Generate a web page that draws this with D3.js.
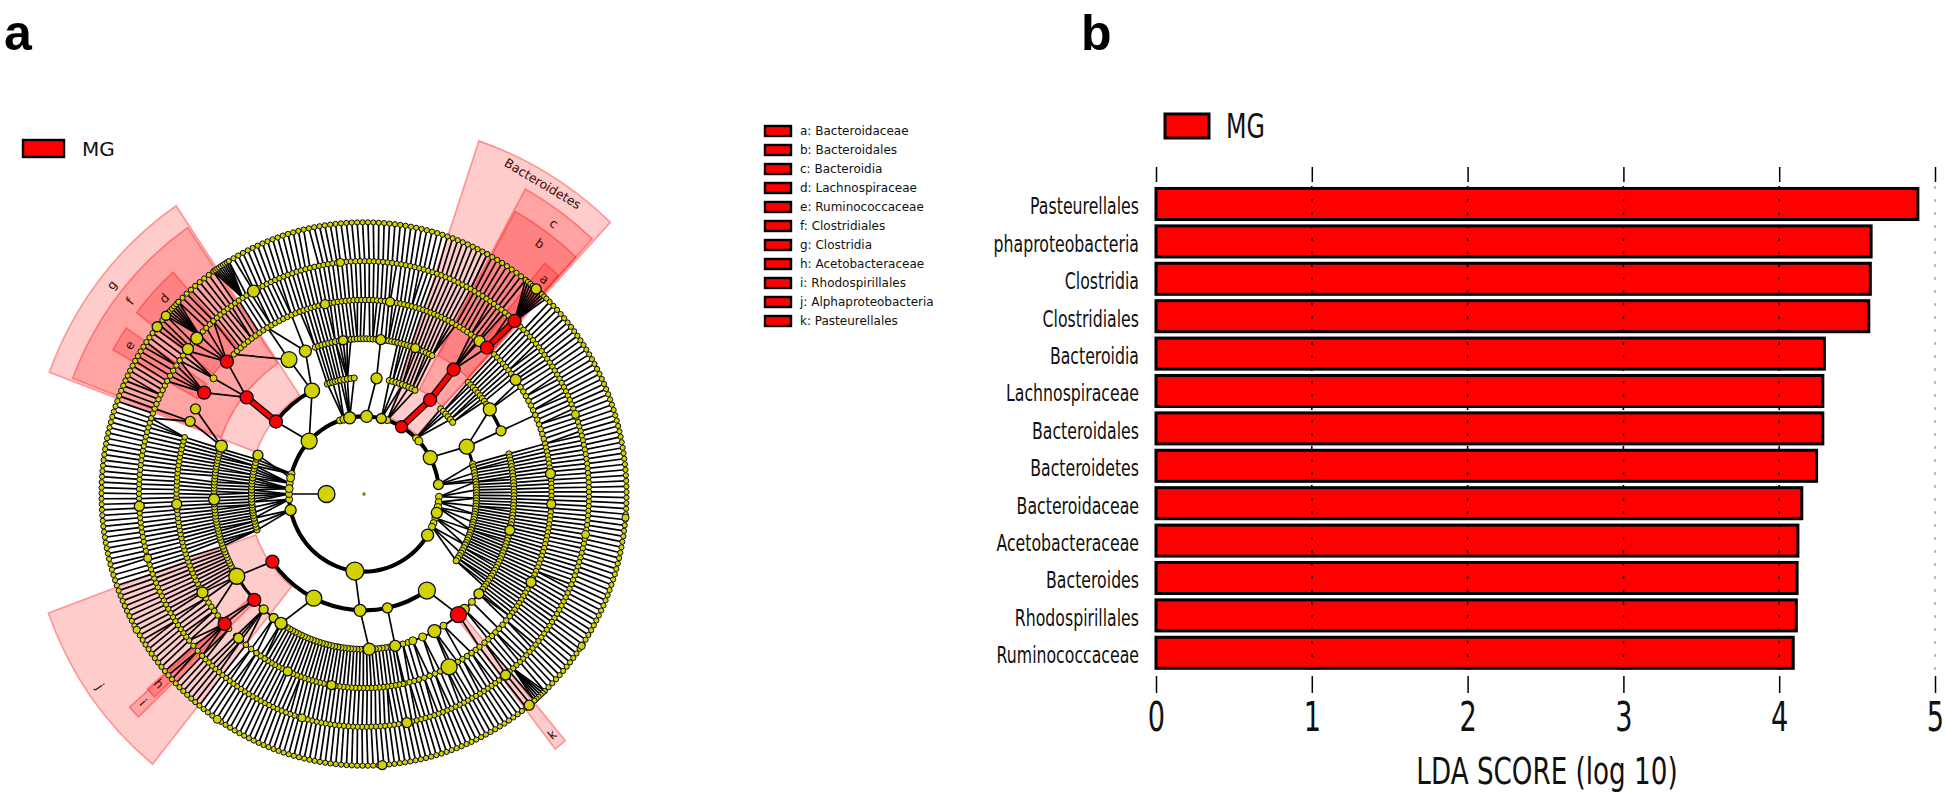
<!DOCTYPE html>
<html>
<head>
<meta charset="utf-8">
<script src="https://cdn.jsdelivr.net/npm/d3@7/dist/d3.min.js"></script>
<style>
  html, body { margin: 0; padding: 0; background: #fff; }
  svg { display: block; }
  text { font-family: "DejaVu Sans", sans-serif; }
</style>
</head>
<body>
<svg id="chart" width="1946" height="793"></svg>
<script>
// bar chart values (panel b)
const barNames = ["Pasteurellales", "phaproteobacteria", "Clostridia", "Clostridiales", "Bacteroidia", "Lachnospiraceae",
  "Bacteroidales", "Bacteroidetes", "Bacteroidaceae", "Acetobacteraceae", "Bacteroides", "Rhodospirillales", "Ruminococcaceae"];
const barScores = [4.89, 4.59, 4.585, 4.575, 4.29, 4.28, 4.28, 4.24, 4.145, 4.12, 4.115, 4.11, 4.09];
const scoreTicks = [0, 1, 2, 3, 4, 5];

// legend of panel a
const cladeKeys = ["a: Bacteroidaceae", "b: Bacteroidales", "c: Bacteroidia", "d: Lachnospiraceae", "e: Ruminococcaceae",
  "f: Clostridiales", "g: Clostridia", "h: Acetobacteraceae", "i: Rhodospirillales", "j: Alphaproteobacteria", "k: Pasteurellales"];

// shaded clades: label, first angle, last angle, taxonomic level (0 phylum .. 3 family), label angle
const cladeLabels = ["Bacteroidetes", "c", "b", "a", "g", "f", "d", "e", "j", "i", "h", "k"];
const cladeStart = [18.6, 28.7, 29, 39, 290.5, 291, 307.6, 299, 219, 226.3, 226.9, 139.8];
const cladeEnd = [43.2, 42.8, 42.8, 42.6, 326, 325.6, 318.3, 304, 250, 228.7, 229, 142.2];
const cladeLevel = [0, 1, 2, 3, 1, 2, 3, 3, 1, 2, 3, 2];
const cladeLabelAngle = [30.8, 36, 36, 41, 308.7, 308.5, 313.4, 301.5, 234.8, 227.6, 228.2, 141];

// cladogram nodes per ring: [angle, size, angle of parent, kind] kind 1 = red, 2 = red with red link
const ring1Nodes = [[270, 8.5]];
const ring2Nodes = [[258, 5.5], [266, 3.5], [270, 3.5, 270], [274, 4], [278, 3.5], [282, 4], [285, 3.5], [313, 8], [341.4, 3.5],
  [344.5, 4], [349, 6], [2, 6], [13.4, 5], [18, 3.5], [30, 6, undefined, 1], [44, 3.5], [47, 4], [62, 7], [83, 5], [92, 3.5],
  [96, 3.5], [100, 4], [104, 5.5], [108, 3.5], [112, 3.5], [115, 3.5], [122, 6], [187, 9]];
const ring3Nodes = [[146, 8.5], [168, 5], [182, 6, 187], [206.5, 8], [234.5, 6.5, undefined, 1], [332.5, 7.5, 313],
  [308.5, 6.5, 313, 1], [66, 7.5, 62], [36, 6.5, 30, 2], [6.4, 5.5, 2], [289.5, 5, 282]];
const ring4Nodes = [[57, 6.5, 66], [66, 5, 66], [36.7, 6.5, 36, 2], [130, 5], [134, 3.5], [138, 5], [141, 8, 146, 1], [148, 3.5],
  [152, 6.5], [157, 4], [161, 4], [168, 5.5, 168], [178, 6, 182], [213.6, 6, 206.5], [217, 4.5], [222, 4.5], [227, 6.5, undefined, 1],
  [238, 8, 234.5], [288, 6], [268, 5.5], [103.5, 5], [308.5, 6.5, 308.5, 2], [330, 8, 332.5], [337, 6, 332.5], [6.4, 5, 6.4], [-8, 4.5], [20, 4.5]];
const ring5Nodes = [[38, 5.5, 36.7], [41, 6.5, 36.7, 1], [54, 5.5], [84, 5], [93, 4.5], [117, 5], [153, 8, 152], [228, 6.5, 227, 1],
  [239.5, 5.5, 238], [222, 5, 222], [301.5, 6.5, 308.5, 1], [313, 6.5, 308.5, 1], [296, 5, 288], [292, 5, 288], [306.6, 3.5, 308.5], [267, 5],
  [190, 4.5], [204, 4.5], [-12, 4.5], [8, 4.5]];
const ring6Nodes = [[42, 6.5, 41, 2], [141, 5], [169, 5], [267, 5], [312, 6], [308.5, 5.5], [330.6, 6], [254, 4], [70, 4], [100, 4], [196, 4], [-6, 4]];
const ring7Nodes = [[141, 5], [176, 4.5], [308, 5], [311, 4.5], [41, 5], [214, 4], [95, 3.6], [124, 3.6], [240, 3.6]];

// evenly spread node runs per ring: [first angle, last angle, count, angle of parent | near | none, link every nth child]
const near = "near", none = "none";
const ring3Runs = [[341, 348, 6, 344.5, 2], [348, 355, 5, 349, 2], [13, 20, 5, 13.4, 2], [20, 27, 5, 18, 2], [43, 52, 6, 44, 2], [75, 84, 7, 83, 3],
  [84, 92, 7, 92, 3], [92, 100, 7, 96, 3], [100, 108, 7, 100, 3], [108, 116, 7, 108, 3], [116, 125, 7, 115, 3], [252, 258, 5, 258, 2], [258, 266, 7, 266, 2],
  [266, 272, 5, 270], [272, 278, 5, 274], [278, 284, 5, 278], [284, 289, 4, 285, 2]];
const ring4Runs = [[44, 56, 10, near], [75, 129, 46, near], [163, 167, 3, none], [169, 177, 7, none], [179, 190, 10, none], [190, 212, 19, none],
  [240, 287, 42, near], [341, 349, 7, near], [349, 355, 5, 352], [355, 373, 16, none], [373, 387, 12, near]];
const ring5Runs = [[28, 37.5, 8, near], [44, 53, 8, near], [55, 66, 8, 57, 99], [66, 75, 7, 66, 99], [75, 129, 46, near], [129, 134, 4, 130, 99], [134, 137, 3, 134, 99],
  [137, 140, 3, 138, 99], [142, 145, 3, 141, 99], [145, 150, 4, 148, 99], [150, 156, 4, 152, 99], [156, 159.5, 3, 157, 99], [159.5, 163, 3, 161, 99], [163, 167.5, 4, near],
  [168, 212, 37, near], [212, 215, 3, 213.6, 99], [215, 219, 3, 217, 99], [219, 221, 2, 222, 99], [223, 226, 2, 222, 99], [229.5, 233, 3, 227, 99], [233, 239, 5, 238, 99],
  [240, 287, 40, near], [316, 329, 10, 330, 99], [329, 340, 9, 337, 99], [340, 388, 41, near]];
const ring6Runs = [[44, 226, 157, near], [226, 231, 4, 228], [231, 289, 50, near], [289, 299, 9, 292, 99], [299, 305, 5, 301.5], [305, 308, 3, 306.6],
  [308, 318, 9, 313, 2], [318, 400, 71, near]];
const ring7Runs = [[45, 136.5, 79, near], [136.5, 139.5, 6, 138], [139.5, 311, 148, near], [311, 315, 7, 313], [315, 325, 9, near], [325, 329, 9, 327],
  [329, 388, 51, near], [28, 38, 9, near], [38, 44, 10, 42]];

// thick connecting arcs: [ring, first angle, last angle, weight]
const ringArcs = [[2, 92, 443, 4], [3, 146, 234.5, 4], [3, 308.5, 332.5, 4], [3, 66, 125, 3], [4, 57, 66, 3.5], [4, 227, 238, 3],
  [4, 130, 161, 2], [4, 163, 212, 2], [4, 213.6, 227, 2], [3, 341, 355, 1.5], [3, 13, 27, 1.5]];

const svg = d3.select("#chart");

// ---------- panel letters ----------
svg.append("text").attr("x", 4).attr("y", 50).text("a")
  .style("font-family", "'Liberation Sans'").style("font-weight", "bold").style("font-size", "50px");
svg.append("text").attr("x", 1081).attr("y", 50).text("b")
  .style("font-family", "'Liberation Sans'").style("font-weight", "bold").style("font-size", "50px");

// ---------- cladogram ----------
const cx = 364, cy = 494, squash = 1.035;
const ringRadius = d3.scaleLinear().domain([0, 7]).range([0, 262.5]);
const toRad = d3.scaleLinear().domain([0, 360]).range([0, 2 * Math.PI]);

function place(angle, ring) {
  const p = d3.pointRadial(toRad(angle), ringRadius(ring));
  return [cx + p[0], cy + p[1] * squash];
}
function angleGap(a, b) {
  const d = Math.abs(a - b) % 360;
  return d > 180 ? 360 - d : d;
}

const rings = [[], ring1Nodes, ring2Nodes, ring3Nodes, ring4Nodes, ring5Nodes, ring6Nodes, ring7Nodes];
const runs = [[], [], [], ring3Runs, ring4Runs, ring5Runs, ring6Runs, ring7Runs];
const runSize = [0, 0, 0, 3.1, 3, 2.8, 2.7, 2.6];

let allNodes = [], links = [];
let prev = [];
d3.range(1, 8).forEach(function (ring) {
  const here = rings[ring].map(function (n) {
    return { ring: ring, angle: n[0], size: n[1], hub: n[2] === undefined ? none : n[2], kind: n[3] || 0, show: true };
  });
  runs[ring].forEach(function (r) {
    const spread = d3.scalePoint().domain(d3.range(r[2])).range([r[0], r[1]]);
    const nearest = d3.least(spread.domain(), function (i) { return angleGap(spread(i), r[3]); });
    spread.domain().forEach(function (i) {
      // a hub reaches its run through the ring arc, only some children get their own line
      const show = typeof r[3] !== "number" || !r[4] || i % r[4] === 0 || i === nearest;
      here.push({ ring: ring, angle: spread(i), size: runSize[ring], hub: r[3], kind: 0, show: show });
    });
  });
  here.forEach(function (n) {
    if (n.hub === none || !n.show || !prev.length) return;
    const target = n.hub === near ? n.angle : n.hub;
    const parent = d3.least(prev, function (p) { return angleGap(p.angle, target); });
    if (n.hub === near && angleGap(parent.angle, n.angle) > 2.5) return;
    links.push({ from: parent, to: n });
  });
  allNodes = allNodes.concat(here);
  prev = here;
});

const clade = svg.append("g").attr("class", "cladogram");

// shaded clades, widest level first
const levelInner = [78, 115, 153, 190];
const levelOuter = [360, 336, 312, 287];
const levelLabel = [349, 323, 299, 275];
const arcPath = d3.arc();
const shade = clade.append("g").attr("transform", "translate(" + cx + "," + cy + ") scale(1," + squash + ")");
cladeLabels.forEach(function (name, i) {
  shade.append("path")
    .attr("d", arcPath({
      innerRadius: levelInner[cladeLevel[i]],
      outerRadius: levelOuter[cladeLevel[i]],
      startAngle: toRad(cladeStart[i]),
      endAngle: toRad(cladeEnd[i])
    }))
    .attr("fill", "#ff0000").attr("fill-opacity", 0.2)
    .attr("stroke", "#ff0000").attr("stroke-opacity", 0.35).attr("stroke-width", 1.6);
});

// thick arcs along the rings
const arcsLayer = clade.append("g").attr("transform", "translate(" + cx + "," + cy + ") scale(1," + squash + ")");
ringArcs.forEach(function (a) {
  const r = ringRadius(a[0]);
  arcsLayer.append("path")
    .attr("d", arcPath({ innerRadius: r - a[3] / 2, outerRadius: r + a[3] / 2, startAngle: toRad(a[1]), endAngle: toRad(a[2]) }))
    .attr("fill", "#000");
});

// parent to child lines
clade.append("g").selectAll("line")
  .data(links)
  .enter().append("line")
  .attr("x1", function (d) { return place(d.from.angle, d.from.ring)[0]; })
  .attr("y1", function (d) { return place(d.from.angle, d.from.ring)[1]; })
  .attr("x2", function (d) { return place(d.to.angle, d.to.ring)[0]; })
  .attr("y2", function (d) { return place(d.to.angle, d.to.ring)[1]; })
  .attr("stroke", "#000")
  .attr("stroke-width", function (d) { return d.to.kind === 2 ? 7 : 1.7; });
clade.append("g").selectAll("line")
  .data(links.filter(function (d) { return d.to.kind === 2; }))
  .enter().append("line")
  .attr("x1", function (d) { return place(d.from.angle, d.from.ring)[0]; })
  .attr("y1", function (d) { return place(d.from.angle, d.from.ring)[1]; })
  .attr("x2", function (d) { return place(d.to.angle, d.to.ring)[0]; })
  .attr("y2", function (d) { return place(d.to.angle, d.to.ring)[1]; })
  .attr("stroke", "#ff0000").attr("stroke-width", 4.5);

// nodes, small ones first so the big ones sit on top
const sorted = allNodes.slice().sort(function (a, b) { return (a.kind ? 20 : a.size) - (b.kind ? 20 : b.size); });
clade.append("g").selectAll("circle")
  .data(sorted)
  .enter().append("circle")
  .attr("cx", function (d) { return place(d.angle, d.ring)[0]; })
  .attr("cy", function (d) { return place(d.angle, d.ring)[1]; })
  .attr("r", function (d) { return d.size; })
  .attr("fill", function (d) { return d.kind ? "#ff0000" : "#d2d200"; })
  .attr("stroke", "#0a0a1e")
  .attr("stroke-width", function (d) { return d.size > 4 ? 1.3 : 1; });

// centre dot
clade.append("circle").attr("cx", cx).attr("cy", cy).attr("r", 1.5)
  .attr("fill", "#8c8c00").attr("stroke", "#555").attr("stroke-width", 0.4);

// clade labels
cladeLabels.forEach(function (name, i) {
  const a = cladeLabelAngle[i];
  const pd = d3.pointRadial(toRad(a), levelLabel[cladeLevel[i]]);
  const turn = a > 90 && a < 270 ? a - 180 : a;
  clade.append("text")
    .attr("transform", "translate(" + (cx + pd[0]) + "," + (cy + pd[1] * squash) + ") rotate(" + turn + ")")
    .attr("text-anchor", "middle").attr("dy", "0.35em")
    .style("font-size", "12.5px").style("fill", "#3c0808")
    .text(name);
});

// MG key of panel a
svg.append("rect").attr("x", 23).attr("y", 140).attr("width", 41).attr("height", 17)
  .attr("fill", "#ff0000").attr("stroke", "#000").attr("stroke-width", 2.4);
svg.append("text").attr("x", 82).attr("y", 156).text("MG").style("font-size", "20px").style("fill", "#111");

// clade key
const keyRow = d3.scalePoint().domain(cladeKeys).range([131, 321]);
const keys = svg.append("g").selectAll("g").data(cladeKeys).enter().append("g")
  .attr("transform", function (d) { return "translate(0," + keyRow(d) + ")"; });
keys.append("rect").attr("x", 765).attr("y", -5).attr("width", 26).attr("height", 10)
  .attr("fill", "#ff0000").attr("stroke", "#000").attr("stroke-width", 2.4);
keys.append("text").attr("x", 800).attr("dy", "0.36em").style("font-size", "12px").style("fill", "#111")
  .text(function (d) { return d; });

// ---------- LDA bars ----------
const xScore = d3.scaleLinear().domain([0, 5]).range([1156, 1935]);
const yBar = d3.scaleBand().domain(barNames).range([185.3, 671.5]).paddingInner(0.17).paddingOuter(0.085);
const squeeze = 0.70;

const bars = svg.append("g").attr("class", "bars");
bars.selectAll("rect")
  .data(barNames)
  .enter().append("rect")
  .attr("x", xScore(0))
  .attr("y", function (d) { return yBar(d); })
  .attr("width", function (d, i) { return xScore(barScores[i]) - xScore(0); })
  .attr("height", yBar.bandwidth())
  .attr("fill", "#ff0000").attr("stroke", "#000").attr("stroke-width", 3);

bars.selectAll("text")
  .data(barNames)
  .enter().append("text")
  .attr("transform", function (d) { return "translate(1139," + (yBar(d) + yBar.bandwidth() / 2) + ") scale(" + squeeze + ",1)"; })
  .attr("text-anchor", "end").attr("dy", "0.46em")
  .style("font-size", "22.5px").style("fill", "#111")
  .text(function (d) { return d; });

// dotted guides over the bars
svg.append("g").selectAll("line")
  .data(scoreTicks.slice(1))
  .enter().append("line")
  .attr("x1", function (d) { return xScore(d); }).attr("x2", function (d) { return xScore(d); })
  .attr("y1", 186).attr("y2", 671)
  .attr("stroke", function (d) { return d === 5 ? "#777" : "#000"; })
  .attr("stroke-width", function (d) { return d === 5 ? 1 : 1.6; })
  .attr("stroke-dasharray", "3,10");

// axes
const axisBottom = svg.append("g").attr("transform", "translate(0,676)")
  .call(d3.axisBottom(xScore).tickValues(scoreTicks).tickSize(17).tickFormat(d3.format("d")));
axisBottom.select(".domain").remove();
axisBottom.selectAll("line").attr("stroke", "#000").attr("stroke-width", 1.5);
axisBottom.selectAll("text")
  .attr("y", 0).attr("dy", 0)
  .attr("transform", "translate(0,55) scale(0.68,1)")
  .style("font-size", "40px").style("font-family", "'DejaVu Sans'").style("fill", "#111");

const axisTop = svg.append("g").attr("transform", "translate(0,182)")
  .call(d3.axisTop(xScore).tickValues(scoreTicks).tickSize(15).tickFormat(""));
axisTop.select(".domain").remove();
axisTop.selectAll("line").attr("stroke", "#000").attr("stroke-width", 1.5);

svg.append("text")
  .attr("transform", "translate(1547,784) scale(0.69,1)")
  .attr("text-anchor", "middle")
  .style("font-size", "38px").style("fill", "#111")
  .text("LDA SCORE (log 10)");

// MG key of panel b
svg.append("rect").attr("x", 1165).attr("y", 114).attr("width", 44).attr("height", 24)
  .attr("fill", "#ff0000").attr("stroke", "#000").attr("stroke-width", 3);
svg.append("text").attr("transform", "translate(1226,138) scale(0.72,1)")
  .style("font-size", "33px").style("fill", "#111").text("MG");
</script>
</body>
</html>
